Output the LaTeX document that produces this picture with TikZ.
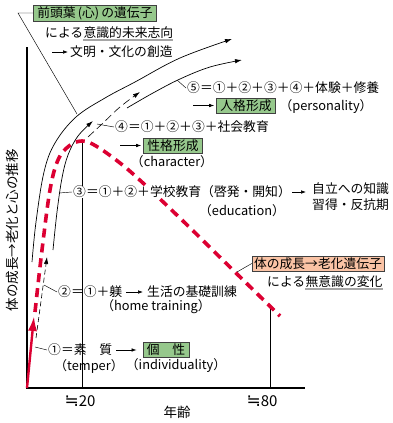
\documentclass[tikz,border=0pt]{standalone}
\usepackage{fontspec}
\setmainfont{Noto Sans CJK JP}
\newfontfamily\djv{DejaVu Sans}
\newcommand\fwc[1]{\makebox[1em]{#1}}
\newcommand\fpl{\makebox[1em]{＋}}
\newcommand\feq{\makebox[1em]{＝}}
\usetikzlibrary{arrows.meta,positioning}
\definecolor{boxgreen}{RGB}{150,200,140}
\definecolor{boxsalmon}{RGB}{250,195,165}
\definecolor{lred}{RGB}{220,0,50}
\definecolor{ulgray}{RGB}{165,165,165}
\begin{document}
\begin{tikzpicture}[x=1pt,y=-1pt, font=\fontsize{12.8}{14}\selectfont,
  txt/.style={inner sep=0pt},
  eqtxt/.style={inner sep=0pt, anchor=west},
  gbox/.style={draw=black!75, line width=0.5pt, fill=boxgreen, inner xsep=4pt, inner ysep=1.5pt},
  sbox/.style={draw=black!75, line width=0.5pt, fill=boxsalmon, inner xsep=2pt, inner ysep=1.5pt},
  lead/.style={line width=0.45pt},
  tarrow/.style={line width=0.6pt, -{Latex[length=5pt,width=3.6pt]}},
  carrow/.style={line width=0.7pt, -{Latex[length=7pt,width=4.4pt]}},
  axisline/.style={line width=1.3pt},
  tickline/.style={line width=0.6pt},
  redd/.style={draw=lred, line width=3.6pt, dash pattern=on 9pt off 6pt},
  bdash/.style={line width=0.6pt, dash pattern=on 5pt off 3pt},
  bdashlong/.style={line width=0.6pt, dash pattern=on 8pt off 4pt},
  uline/.style={draw=ulgray, line width=1.6pt}]

\useasboundingbox (0,0) rectangle (393,423);

% axes
\coordinate (O) at (27,388);
\coordinate (ytop) at (27,47);
\coordinate (xend) at (305,388);
\draw[axisline] (ytop) -- (O) -- (xend);

% ticks
\coordinate (p20) at (82,388); \coordinate (peak) at (82,141);
\draw[tickline] (p20) -- (peak);
\coordinate (p80) at (270,388); \coordinate (r80) at (270,306);
\draw[tickline] (p80) -- (r80);

% red curve
\coordinate (redtip) at (34,316);
\draw[lred, line width=2.4pt, -{Latex[length=15pt,width=9pt]}] (O) -- (redtip);
\draw[redd] plot[smooth, tension=0.6] coordinates {(35,312) (42,250) (50,190) (58,160) (69,146) (82,141) (96,146) (120,163) (143,183) (183,221) (237,274) (280,316)};

% outer curve
\draw[carrow] plot[smooth, tension=0.6] coordinates {(32,262) (36,222) (44,172) (55,143) (76,117) (105,98) (135,82) (180,58) (232,39)};
% lower solid (5)
\draw[carrow] plot[smooth, tension=0.6] coordinates {(127,108) (153,93) (180,79) (210,67) (242,60)};
% inner solid (3)
\draw[carrow] plot[smooth, tension=0.6] coordinates {(53,250) (57,212) (62,178) (68,155) (78,136) (93,121)};
% dashed (2)
\coordinate (d2a) at (36,338); \coordinate (d2b) at (47,257);
\draw[bdash, -{Latex[length=7pt,width=4.4pt]}] (d2a) -- (d2b);
% dashed (4)
\draw[bdashlong, -{Latex[length=7pt,width=4.4pt]}] plot[smooth, tension=0.6] coordinates {(88,137) (102,124) (120,107) (140,92)};

% top labels
\node[gbox, anchor=west] (zento) at (33,13) {前頭葉\,(心)\,の遺伝子};
\node[txt, anchor=west] (niyoru1) at (45,33) {による};
\node[txt, anchor=west] (ishiki) at (niyoru1.east) {意識的未来志向};
\draw[uline] ([yshift=-1pt]ishiki.south west) -- ([yshift=-1pt]ishiki.south east);
\node[txt, anchor=west] (bunmei) at (70,52) {文明・文化の創造};
\coordinate (a0) at (52,52);
\draw[tarrow] (a0) -- ([xshift=-2pt]bunmei.west);
\coordinate (cz0) at (18,13); \coordinate (cz) at (77,114);
\draw[lead] (zento.west) -- (cz0) -- (cz);

% (5)
\node[eqtxt] (l5) at (187,88) {\fwc{⑤}\feq\fwc{①}\fpl\fwc{②}\fpl\fwc{③}\fpl\fwc{④}\fpl 体験\fpl 修養};
\coordinate (c5) at (177,80);
\draw[lead] (c5) -- ([xshift=-1pt]l5.west);
\node[gbox] (jinkaku) at (246,105.5) {人格形成};
\coordinate (a5) at (193,105.5);
\draw[tarrow] (a5) -- ([xshift=-2pt]jinkaku.west);
\node[txt] (pers) at (326,107) {（personality）};

% (4)
\node[eqtxt] (l4) at (115,127) {\fwc{④}\feq\fwc{①}\fpl\fwc{②}\fpl\fwc{③}\fpl 社会教育};
\coordinate (c4) at (97,124);
\draw[lead] (c4) -- ([xshift=-1pt]l4.west);
\node[gbox] (seikaku) at (173,145.5) {性格形成};
\coordinate (a4) at (120,145.5);
\draw[tarrow] (a4) -- ([xshift=-2pt]seikaku.west);
\node[txt] (chara) at (172,162) {（character）};

% (3)
\node[eqtxt, fill=white] (l3) at (73,192) {\fwc{③}\feq\fwc{①}\fpl\fwc{②}\fpl 学校教育（啓発・開知）};
\coordinate (c3) at (59,193);
\draw[lead] (c3) -- ([xshift=-1pt]l3.west);
\node[txt, anchor=west, align=left, font=\fontsize{12.8}{16}\selectfont] (jiritsu) at (312,197) {自立への知識\\習得・反抗期};
\draw[tarrow, shorten <=1pt, shorten >=6pt] (l3.east) -- (l3.east -| jiritsu.west);
\node[txt] (edu) at (242,211) {（education）};

% aging gene
\node[sbox] (karada) at (318,263.5) {体の成長→老化遺伝子};
\coordinate (ck) at (237,272);
\draw[lead] (karada.west) -- (ck);
\node[txt, anchor=west] (niyoru2) at (267,282) {による};
\node[txt, anchor=west] (muishiki) at (niyoru2.east) {無意識の変化};
\draw[uline] ([yshift=-1pt]muishiki.south west) -- ([yshift=-1pt]muishiki.south east);

% (2)
\node[eqtxt] (l2) at (58,292) {\fwc{②}\feq\fwc{①}\fpl 躾};
\coordinate (c2) at (44,285);
\draw[lead] (c2) -- ([xshift=-1pt]l2.west);
\node[txt, anchor=west] (seikatsu) at (147,292) {生活の基礎訓練};
\draw[tarrow, shorten <=4pt, shorten >=4pt] (l2.east) -- (seikatsu.west);
\node[txt] (home) at (156,307) {（home training）};

% (1)
\node[eqtxt] (l1) at (48,350) {\fwc{①}\feq 素　質};
\coordinate (c1) at (35,347);
\draw[lead] (c1) -- ([xshift=-1pt]l1.west);
\node[gbox] (kosei) at (166,350) {個　性};
\draw[tarrow, shorten <=4pt, shorten >=6pt] (l1.east) -- (kosei.west);
\node[txt] (temper) at (89,366) {（temper）};
\node[txt] (indiv) at (176,366) {（individuality）};

% axis labels
\node[txt, font=\fontsize{15}{17}\selectfont] (t20) at (80,401) {{\djv\fontsize{17}{17}\selectfont ≒}20};
\node[txt, font=\fontsize{15}{17}\selectfont] (t80) at (262,401) {{\djv\fontsize{17}{17}\selectfont ≒}80};
\node[txt, font=\fontsize{13.5}{16}\selectfont] (nenrei) at (177,412) {年齢};
\node[txt, rotate=90, font=\fontsize{13.5}{16}\selectfont] (ylab) at (12,230) {体の成長→老化と心の推移};
\end{tikzpicture}
\end{document}
